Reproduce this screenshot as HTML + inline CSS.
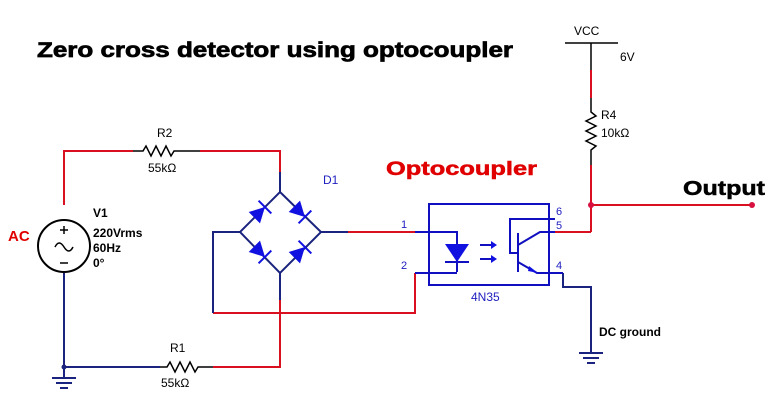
<!DOCTYPE html>
<html><head><meta charset="utf-8"><style>body{margin:0;background:#fff}svg{display:block}</style></head>
<body>
<svg width="784" height="418" viewBox="0 0 784 418" xmlns="http://www.w3.org/2000/svg" font-family="Liberation Sans, sans-serif">
<rect width="784" height="418" fill="#fff"/>
<text x="37" y="57" font-size="21" font-weight="bold" stroke="#000" stroke-width="0.7" textLength="476" lengthAdjust="spacingAndGlyphs">Zero cross detector using optocoupler</text>
<text x="386" y="175" font-size="19" font-weight="bold" fill="#e00000" stroke="#e00000" stroke-width="0.5" textLength="151" lengthAdjust="spacingAndGlyphs">Optocoupler</text>
<text x="683" y="195" font-size="20" font-weight="bold" stroke="#000" stroke-width="0.5" textLength="82" lengthAdjust="spacingAndGlyphs">Output</text>
<text x="8" y="241" font-size="15" font-weight="bold" fill="#e00000">AC</text>
<text x="599" y="336" font-size="12" font-weight="bold">DC ground</text>
<g fill="none" stroke-width="2">
<g stroke="#d81020">
<polyline points="64,205 64,151 133,151"/>
<polyline points="200,151 280,151 280,172"/>
<polyline points="213,313 415,313 415,273"/>
<polyline points="280,300 280,367 213,367"/>
<line x1="348" y1="232" x2="415" y2="232"/>
<line x1="540" y1="232" x2="591" y2="232"/>
<polyline points="591,232 591,165"/>
<line x1="591" y1="205" x2="752" y2="205"/>
<line x1="591" y1="70" x2="591" y2="98"/>
</g>
<g stroke="#1a237e">
<line x1="64" y1="272" x2="64" y2="378"/>
<line x1="64" y1="367" x2="160" y2="367"/>
<line x1="280" y1="172" x2="280" y2="192"/>
<polyline points="213,313 213,232 240,232"/>
<line x1="280" y1="273" x2="280" y2="300"/>
<line x1="321" y1="232" x2="348" y2="232"/>
<polyline points="563,273 563,287 591,287 591,353"/>
</g>
<g stroke="#1a237e" stroke-width="2"><line x1="52" y1="378" x2="76" y2="378"/><line x1="56" y1="383" x2="72" y2="383"/><line x1="60" y1="388" x2="68" y2="388"/>
<line x1="579" y1="353" x2="603" y2="353"/><line x1="583" y1="358" x2="599" y2="358"/><line x1="587" y1="363" x2="595" y2="363"/></g>
<g stroke="#000" stroke-width="1.5">
<polyline points="133,151 143,151 146,146 151,156 156,146 161,156 166,146 171,156 174,151 200,151"/>
<polyline points="160,367 167,367 170,362 175,372 180,362 185,372 190,362 195,372 198,367 213,367"/>
<polyline points="591,98 591,112 596,116 586,121 596,126 586,131 596,136 586,141 596,146 591,150 591,165"/>
<line x1="565" y1="43" x2="618" y2="43"/><line x1="591" y1="43" x2="591" y2="70"/>
</g>
<circle cx="64" cy="246" r="26" stroke="#000"/>
<path d="M55,247 q4,-8 9,0 q5,8 9,0" stroke="#000" stroke-width="1.5"/>
<line x1="60" y1="230" x2="68" y2="230" stroke="#000" stroke-width="1.5"/><line x1="64" y1="226" x2="64" y2="234" stroke="#000" stroke-width="1.5"/>
<line x1="60" y1="263" x2="68" y2="263" stroke="#000" stroke-width="1.5"/>
<polygon points="280,192 321,232 280,273 240,232" stroke="#1a237e"/>
<rect x="429" y="204" width="120" height="81" stroke="#1010c0"/>
<g stroke="#1010c0">
<polyline points="415,232 457,232 457,272"/><line x1="415" y1="273" x2="457" y2="273"/>
<line x1="445" y1="262" x2="469" y2="262"/>
<polyline points="555,219 510,219 510,253 518,253"/>
<line x1="518" y1="233" x2="518" y2="272"/>
<polyline points="518,245 540,232 555,232"/>
<polyline points="518,262 537,273 563,273"/>
<line x1="480" y1="245" x2="492" y2="245"/><line x1="480" y1="259" x2="492" y2="259"/>
</g>
</g>
<g fill="#1010e0">
<polygon points="445,244 469,244 457,262"/>
<polygon points="491,241 497,245 491,249"/><polygon points="491,255 497,259 491,263"/>
<polygon points="529,266 538,273 528,271"/>
<g transform="translate(260,212) rotate(-45)"><polygon points="-8,-8 -8,8 7,0"/><line x1="7" y1="-9" x2="7" y2="9" stroke="#1010e0" stroke-width="2"/></g>
<g transform="translate(300,212) rotate(45)"><polygon points="-8,-8 -8,8 7,0"/><line x1="7" y1="-9" x2="7" y2="9" stroke="#1010e0" stroke-width="2"/></g>
<g transform="translate(260,252) rotate(45)"><polygon points="-8,-8 -8,8 7,0"/><line x1="7" y1="-9" x2="7" y2="9" stroke="#1010e0" stroke-width="2"/></g>
<g transform="translate(300,252) rotate(-45)"><polygon points="-8,-8 -8,8 7,0"/><line x1="7" y1="-9" x2="7" y2="9" stroke="#1010e0" stroke-width="2"/></g>
</g>
<circle cx="64" cy="367" r="2.5" fill="#1a237e"/>
<circle cx="591" cy="205" r="3" fill="#d81040"/><circle cx="752" cy="205" r="3" fill="#d81040"/>
<g font-size="12" fill="#000">
<text x="157" y="137">R2</text><text x="148" y="172">55kΩ</text>
<text x="170" y="352">R1</text><text x="161" y="387">55kΩ</text>
<text x="93" y="217" font-weight="bold">V1</text>
<text x="93" y="237" font-weight="bold">220Vrms</text>
<text x="93" y="252" font-weight="bold">60Hz</text>
<text x="93" y="267" font-weight="bold">0°</text>
<text x="601" y="119">R4</text><text x="601" y="137">10kΩ</text>
<text x="574" y="35" font-size="12">VCC</text><text x="620" y="61">6V</text>
</g>
<g font-size="11" fill="#2020c0">
<text x="323" y="184" font-size="12">D1</text>
<text x="401" y="228">1</text><text x="401" y="269">2</text>
<text x="556" y="215">6</text><text x="556" y="229">5</text><text x="556" y="269">4</text>
<text x="471" y="301" font-size="12">4N35</text>
</g>
</svg>
</body></html>
